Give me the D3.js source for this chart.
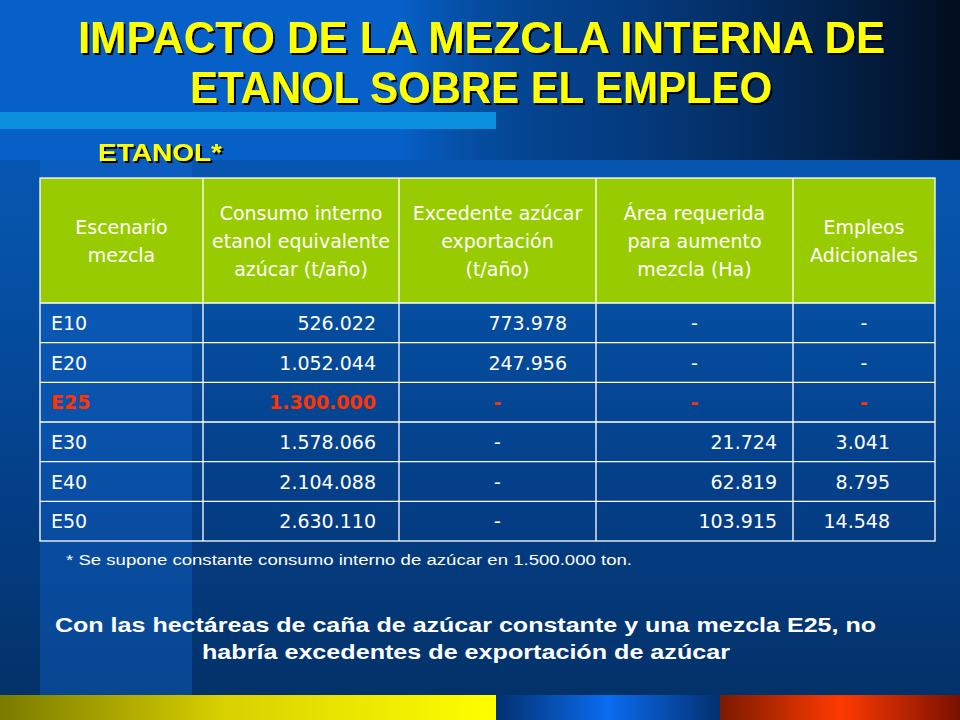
<!DOCTYPE html><html><head><meta charset="utf-8">
<script src="https://cdn.jsdelivr.net/npm/d3@7"></script>
<style>body{margin:0;background:#000}</style></head><body>
<script>
const headers=["Escenario\nmezcla","Consumo interno\netanol equivalente\nazúcar (t/año)","Excedente  azúcar\nexportación\n(t/año)","Área requerida\npara aumento\nmezcla (Ha)","Empleos\nAdicionales"];
const scenarios=["E10","E20","E25","E30","E40","E50"];
const consumo=["526.022","1.052.044","1.300.000","1.578.066","2.104.088","2.630.110"];
const excedente=["773.978","247.956","-","-","-","-"];
const area=["-","-","-","21.724","62.819","103.915"];
const empleos=["-","-","-","3.041","8.795","14.548"];
const highlight="E25";

const W=960,H=720;
const svg=d3.select("body").append("svg").attr("width",W).attr("height",H);
const defs=svg.append("defs");
function lg(id,stops,x2=1,y2=0){const g=defs.append("linearGradient").attr("id",id).attr("x1",0).attr("y1",0).attr("x2",x2).attr("y2",y2);stops.forEach(s=>g.append("stop").attr("offset",s[0]).attr("stop-color",s[1]));}
lg("bg",[[0,"#0a5cc0"],[0.35,"#0552a8"],[0.7,"#043e86"],[1,"#033065"]],0,1);
lg("topR",[[0,"rgba(0,0,0,0)"],[0.35,"rgba(3,40,90,0.6)"],[1,"#020d1e"]]);
lg("yel",[[0,"#7a7a00"],[0.45,"#d8d000"],[1,"#ffff00"]]);
lg("blu",[[0,"#033070"],[0.5,"#0a6cf0"],[1,"#033070"]]);
lg("red",[[0,"#7a1a00"],[0.5,"#ff3a00"],[1,"#7a1000"]]);
const f=defs.append("filter").attr("id","sh").attr("x","-5%").attr("y","-20%").attr("width","110%").attr("height","150%");
f.append("feDropShadow").attr("dx",2).attr("dy",2).attr("stdDeviation",0.5).attr("flood-color","#000").attr("flood-opacity",1);
svg.append("rect").attr("width",W).attr("height",H).attr("fill","url(#bg)");
svg.append("rect").attr("x",0).attr("y",0).attr("width",W).attr("height",160).attr("fill","#0660c8");
svg.append("rect").attr("x",400).attr("y",0).attr("width",560).attr("height",160).attr("fill","url(#topR)");
svg.append("rect").attr("x",0).attr("y",112).attr("width",496).attr("height",17).attr("fill","#0a90dd");
svg.append("rect").attr("x",40).attr("y",160).attr("width",152).attr("height",535).attr("fill","rgba(20,110,220,0.35)");
svg.append("rect").attr("x",0).attr("y",695).attr("width",496).attr("height",25).attr("fill","url(#yel)");
svg.append("rect").attr("x",496).attr("y",695).attr("width",224).attr("height",25).attr("fill","url(#blu)");
svg.append("rect").attr("x",720).attr("y",695).attr("width",240).attr("height",25).attr("fill","url(#red)");

const tf="Liberation Sans, Arial, sans-serif";
const bf="DejaVu Sans, sans-serif";
function fitText(x,y,t,size,fill,len,shadow){
  const e=svg.append("text").attr("x",x).attr("y",y).attr("font-family",tf).attr("font-weight","bold").attr("font-size",size).attr("fill",fill).attr("textLength",len).attr("lengthAdjust","spacingAndGlyphs").text(t);
  if(shadow)e.attr("filter","url(#sh)");
}
fitText(78,53,"IMPACTO DE LA MEZCLA INTERNA DE",44,"#ffff00",807,true);
fitText(190,103,"ETANOL SOBRE EL EMPLEO",44,"#ffff00",582,true);
fitText(98,161,"ETANOL*",24,"#ffff00",124,true);

const colEdges=[40,203,399,596,793,935];
const x0=40,x1=935,hy0=178,hy1=303,by1=541;
const y=d3.scaleBand().domain(scenarios).range([hy1,by1]);
svg.append("rect").attr("x",x0).attr("y",hy0).attr("width",x1-x0).attr("height",hy1-hy0).attr("fill","#99cc00");
headers.forEach((h,i)=>{
  const lines=h.split("\n"),cx=(colEdges[i]+colEdges[i+1])/2,cy=(hy0+hy1)/2;
  const t=svg.append("text").attr("text-anchor","middle").attr("font-family",bf).attr("font-size",19).attr("fill","#fff");
  lines.forEach((l,k)=>t.append("tspan").attr("x",cx).attr("y",cy+(k-(lines.length-1)/2)*28+7).text(l));
});
const g=svg.append("g").attr("stroke","#fff").attr("stroke-width",1.3);
g.append("rect").attr("x",x0).attr("y",hy0).attr("width",x1-x0).attr("height",by1-hy0).attr("fill","none");
colEdges.slice(1,-1).forEach(c=>g.append("line").attr("x1",c).attr("x2",c).attr("y1",hy0).attr("y2",by1));
scenarios.forEach(s=>g.append("line").attr("x1",x0).attr("x2",x1).attr("y1",y(s)).attr("y2",y(s)));
const cols=[scenarios,consumo,excedente,area,empleos];
const numRight=[null,376,567,777,890];
scenarios.forEach((s,r)=>{
  const hl=s===highlight,fill=hl?"#ff3300":"#fff";
  cols.forEach((c,i)=>{
    const v=c[r];let x,a;
    if(i===0){x=51;a="start";}
    else if(v==="-"){x=(colEdges[i]+colEdges[i+1])/2;a="middle";}
    else {x=numRight[i];a="end";}
    svg.append("text").attr("x",x).attr("y",y(s)+y.bandwidth()/2+7).attr("text-anchor",a).attr("font-family",bf).attr("font-size",19).attr("font-weight",hl?"bold":"normal").attr("fill",fill).text(v);
  });
});
svg.append("text").attr("x",66).attr("y",565).attr("font-family",tf).attr("font-size",15).attr("fill","#fff").attr("textLength",566).attr("lengthAdjust","spacingAndGlyphs").text("* Se supone constante consumo interno de azúcar en 1.500.000 ton.");
fitText(55,632,"Con las hectáreas de caña de azúcar constante y una mezcla E25, no",20,"#fff",821,false);
fitText(202,659,"habría excedentes de exportación de azúcar",20,"#fff",528,false);
</script></body></html>
